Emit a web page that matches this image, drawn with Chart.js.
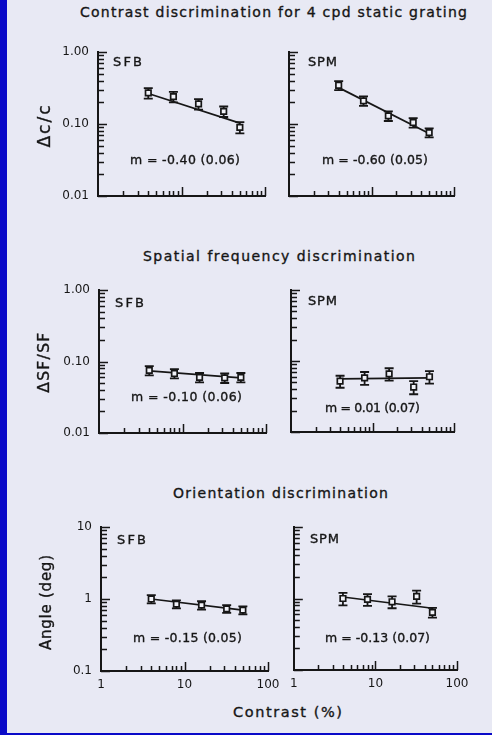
<!DOCTYPE html>
<html>
<head>
<meta charset="utf-8">
<title>Contrast, spatial frequency and orientation discrimination</title>
<script src="https://cdn.jsdelivr.net/npm/chart.js@4.4.1/dist/chart.umd.min.js"></script>
<style>
  html, body { margin: 0; padding: 0; }
  body { width: 492px; height: 735px; background: #0a0ac8; position: relative; overflow: hidden; }
  #page { position: absolute; left: 7px; top: 0; width: 485px; height: 733px; background: #e8e9f4; }
  canvas { position: absolute; }
  .txt { position: absolute; white-space: nowrap; line-height: 1; font-family: "DejaVu Sans", sans-serif; color: #161616; -webkit-text-stroke: 0.35px #161616; }
</style>
</head>
<body>
<div id="page"></div>
<script>
// contrast (%) of the test gratings
const contrast = [4, 8, 16, 32, 50];
// the fitted lines are drawn between these two contrasts
const fitEnds = [4, 50];

// contrast discrimination, delta c / c
const sfbDc = [0.27, 0.24, 0.19, 0.15, 0.09];
const sfbDcErr = [0.045, 0.04, 0.032, 0.025, 0.016];
const sfbDcFit = [0.265, 0.103];
const spmDc = [0.345, 0.21, 0.13, 0.105, 0.076];
const spmDcErr = [0.05, 0.032, 0.02, 0.016, 0.011];
const spmDcFit = [0.32, 0.074];

// spatial frequency discrimination, delta SF / SF
const sfbSf = [0.075, 0.068, 0.060, 0.059, 0.060];
const sfbSfErr = [0.011, 0.01, 0.009, 0.009, 0.009];
const sfbSfFit = [0.074, 0.059];
const spmSf = [0.052, 0.058, 0.066, 0.043, 0.060];
const spmSfErr = [0.01, 0.012, 0.013, 0.009, 0.012];
const spmSfFit = [0.056, 0.058];

// orientation discrimination, angle in deg
const sfbAngle = [1.0, 0.85, 0.82, 0.73, 0.70];
const sfbAngleErr = [0.13, 0.11, 0.11, 0.09, 0.09];
const sfbAngleFit = [1.0, 0.70];
const spmAngle = [1.0, 0.97, 0.90, 1.07, 0.64];
const spmAngleErr = [0.2, 0.18, 0.17, 0.22, 0.1];
const spmAngleFit = [1.05, 0.73];

// tick labels
const xTicks = ['1', '10', '100'];
const yTicksDc = ['0.01', '0.10', '1.00'];
const yTicksSf = ['0.01', '0.10', '1.00'];
const yTicksAngle = ['0.1', '1', '10'];

const slopes = ['m = -0.40 (0.06)', 'm = -0.60 (0.05)',
                'm = -0.10 (0.06)', 'm = 0.01 (0.07)',
                'm = -0.15 (0.05)', 'm = -0.13 (0.07)'];

const INK = '#161616';
const BG = '#e8e9f4';
const FONT = '"DejaVu Sans", sans-serif';

// box = [axis x, right end, top, axis y] in page pixels
const panels = [
  { name: 'SFB', y: sfbDc, err: sfbDcErr, fit: sfbDcFit, yTicks: yTicksDc, slope: slopes[0],
    box: [98, 265, 52, 196], showY: true, showX: false, tag: [113, 66], slopeAt: [130, 165, 110] },
  { name: 'SPM', y: spmDc, err: spmDcErr, fit: spmDcFit, yTicks: yTicksDc, slope: slopes[1],
    box: [289, 454, 52, 196], showY: false, showX: false, tag: [308, 66], slopeAt: [322, 165, 106] },
  { name: 'SFB', y: sfbSf, err: sfbSfErr, fit: sfbSfFit, yTicks: yTicksSf, slope: slopes[2],
    box: [99, 266, 290, 433], showY: true, showX: false, tag: [115, 307], slopeAt: [131, 402, 111] },
  { name: 'SPM', y: spmSf, err: spmSfErr, fit: spmSfFit, yTicks: yTicksSf, slope: slopes[3],
    box: [291, 454, 290, 432], showY: false, showX: false, tag: [308, 305], slopeAt: [325, 413, 95] },
  { name: 'SFB', y: sfbAngle, err: sfbAngleErr, fit: sfbAngleFit, yTicks: yTicksAngle, slope: slopes[4],
    box: [101, 268, 527, 671], showY: true, showX: true, tag: [117, 544], slopeAt: [133, 643, 109] },
  { name: 'SPM', y: spmAngle, err: spmAngleErr, fit: spmAngleFit, yTicks: yTicksAngle, slope: slopes[5],
    box: [293, 457, 527, 670], showY: false, showX: true, tag: [310, 543], slopeAt: [325, 643, 105] }
];

// 1..9 in every decade, the 1s are long ticks
function decadeSteps(min, max) {
  const out = [];
  const e0 = Math.round(Math.log10(min)), e1 = Math.round(Math.log10(max));
  for (let e = e0; e < e1; e++) {
    for (let k = 1; k < 10; k++) out.push([k * Math.pow(10, e), k === 1]);
  }
  out.push([max, true]);
  return out;
}

// ticks point into the plot
const innerTicks = {
  id: 'innerTicks',
  afterDraw(chart) {
    const { ctx, chartArea: a, scales: { x, y } } = chart;
    ctx.save();
    ctx.strokeStyle = INK;
    ctx.lineWidth = 1.5;
    ctx.beginPath();
    decadeSteps(y.min, y.max).forEach(([v, major]) => {
      const py = Math.round(y.getPixelForValue(v)) + 0.5;
      ctx.moveTo(a.left, py);
      ctx.lineTo(a.left + (major ? 9 : 6), py);
    });
    decadeSteps(x.min, x.max).forEach(([v, major]) => {
      if (v === x.min) return;
      const px = Math.round(x.getPixelForValue(v)) + 0.5;
      ctx.moveTo(px, a.bottom);
      ctx.lineTo(px, a.bottom - (major ? 9 : 5));
    });
    ctx.stroke();
    ctx.restore();
  }
};

function errorBars(vals, errs) {
  return {
    id: 'errorBars',
    beforeDatasetsDraw(chart) {
      const { ctx, scales: { x, y } } = chart;
      ctx.save();
      ctx.strokeStyle = INK;
      ctx.lineWidth = 1.8;
      ctx.beginPath();
      contrast.forEach((c, i) => {
        const px = x.getPixelForValue(c);
        const hi = y.getPixelForValue(vals[i] + errs[i]);
        const lo = y.getPixelForValue(vals[i] - errs[i]);
        ctx.moveTo(px, hi); ctx.lineTo(px, lo);
        ctx.moveTo(px - 4.5, hi); ctx.lineTo(px + 4.5, hi);
        ctx.moveTo(px - 4.5, lo); ctx.lineTo(px + 4.5, lo);
      });
      ctx.stroke();
      ctx.restore();
    }
  };
}

function makeChart(p) {
  const [left, right, top, bottom] = p.box;
  const cx = p.showY ? 0 : left - 10;
  const cy = top - 20;
  const xh = 24;
  const cv = document.createElement('canvas');
  cv.width = right + 20 - cx;
  cv.height = bottom + xh - cy;
  cv.style.left = cx + 'px';
  cv.style.top = cy + 'px';
  document.body.appendChild(cv);

  const xVals = xTicks.map(Number);
  const yVals = p.yTicks.map(Number);

  new Chart(cv, {
    type: 'scatter',
    data: {
      datasets: [
        {
          data: contrast.map((c, i) => ({ x: c, y: p.y[i] })),
          pointStyle: 'rect',
          pointRadius: 3.9,
          borderWidth: 1.7,
          borderColor: INK,
          backgroundColor: '#f1f2f8'
        },
        {
          data: fitEnds.map((c, i) => ({ x: c, y: p.fit[i] })),
          showLine: true,
          pointRadius: 0,
          borderWidth: 1.7,
          borderColor: INK
        }
      ]
    },
    options: {
      responsive: false,
      animation: false,
      events: [],
      layout: { padding: { top: 20, right: 20, left: 0, bottom: 0 } },
      plugins: { legend: { display: false }, tooltip: { enabled: false } },
      scales: {
        x: {
          type: 'logarithmic',
          min: xVals[0],
          max: xVals[xVals.length - 1],
          afterBuildTicks: s => { s.ticks = xVals.map(v => ({ value: v })); },
          afterFit: s => { s.height = xh; },
          grid: { display: false, drawTicks: false },
          border: { display: true, color: INK, width: 2 },
          ticks: {
            display: p.showX, autoSkip: false, maxRotation: 0, padding: 7,
            color: INK, font: { family: FONT, size: 12 },
            callback: (v, i) => xTicks[i]
          }
        },
        y: {
          type: 'logarithmic',
          min: yVals[0],
          max: yVals[yVals.length - 1],
          afterBuildTicks: s => { s.ticks = yVals.map(v => ({ value: v })); },
          afterFit: s => { s.width = left - cx; },
          grid: { display: false, drawTicks: false },
          border: { display: true, color: INK, width: 2 },
          ticks: {
            display: p.showY, autoSkip: false, padding: 9,
            color: INK, font: { family: FONT, size: 12 },
            callback: (v, i) => p.yTicks[i]
          }
        }
      }
    },
    plugins: [innerTicks, errorBars(p.y, p.err)]
  });
}

// text stretched to the width it has in the figure
function addText(text, x, baseline, width, size) {
  const d = document.createElement('div');
  d.className = 'txt';
  d.textContent = text;
  d.style.fontSize = size + 'px';
  document.body.appendChild(d);
  const n = [...text].length;
  const w = d.getBoundingClientRect().width;
  d.style.letterSpacing = ((width - w) / (n - 1)) + 'px';
  d.style.left = x + 'px';
  d.style.top = (baseline - 0.846 * size) + 'px';
}

function addVText(text, cx, cy, length, size) {
  const d = document.createElement('div');
  d.className = 'txt';
  d.textContent = text;
  d.style.fontSize = size + 'px';
  document.body.appendChild(d);
  const n = [...text].length;
  const w = d.getBoundingClientRect().width;
  const ls = (length - w) / (n - 1);
  d.style.letterSpacing = ls + 'px';
  const ink = w + ls * (n - 1);
  d.style.left = (cx - ink / 2) + 'px';
  d.style.top = (cy - size / 2) + 'px';
  d.style.transformOrigin = (ink / 2) + 'px ' + (size / 2) + 'px';
  d.style.transform = 'rotate(-90deg)';
}

panels.forEach(makeChart);

addText('Contrast discrimination for 4 cpd static grating', 80, 17, 387, 14);
addText('Spatial frequency discrimination', 143, 261, 272, 14);
addText('Orientation discrimination', 173, 498, 215, 14);
addText('Contrast (%)', 233, 717, 109, 14.5);

addVText('Δc/c', 43.5, 126, 42, 17);
addVText('ΔSF/SF', 45, 363, 60, 15.5);
addVText('Angle (deg)', 46, 602, 95, 15);

panels.forEach(p => {
  addText(p.name, p.tag[0], p.tag[1], 29, 13);
  addText(p.slope, p.slopeAt[0], p.slopeAt[1], p.slopeAt[2], 12.5);
});
</script>
</body>
</html>
